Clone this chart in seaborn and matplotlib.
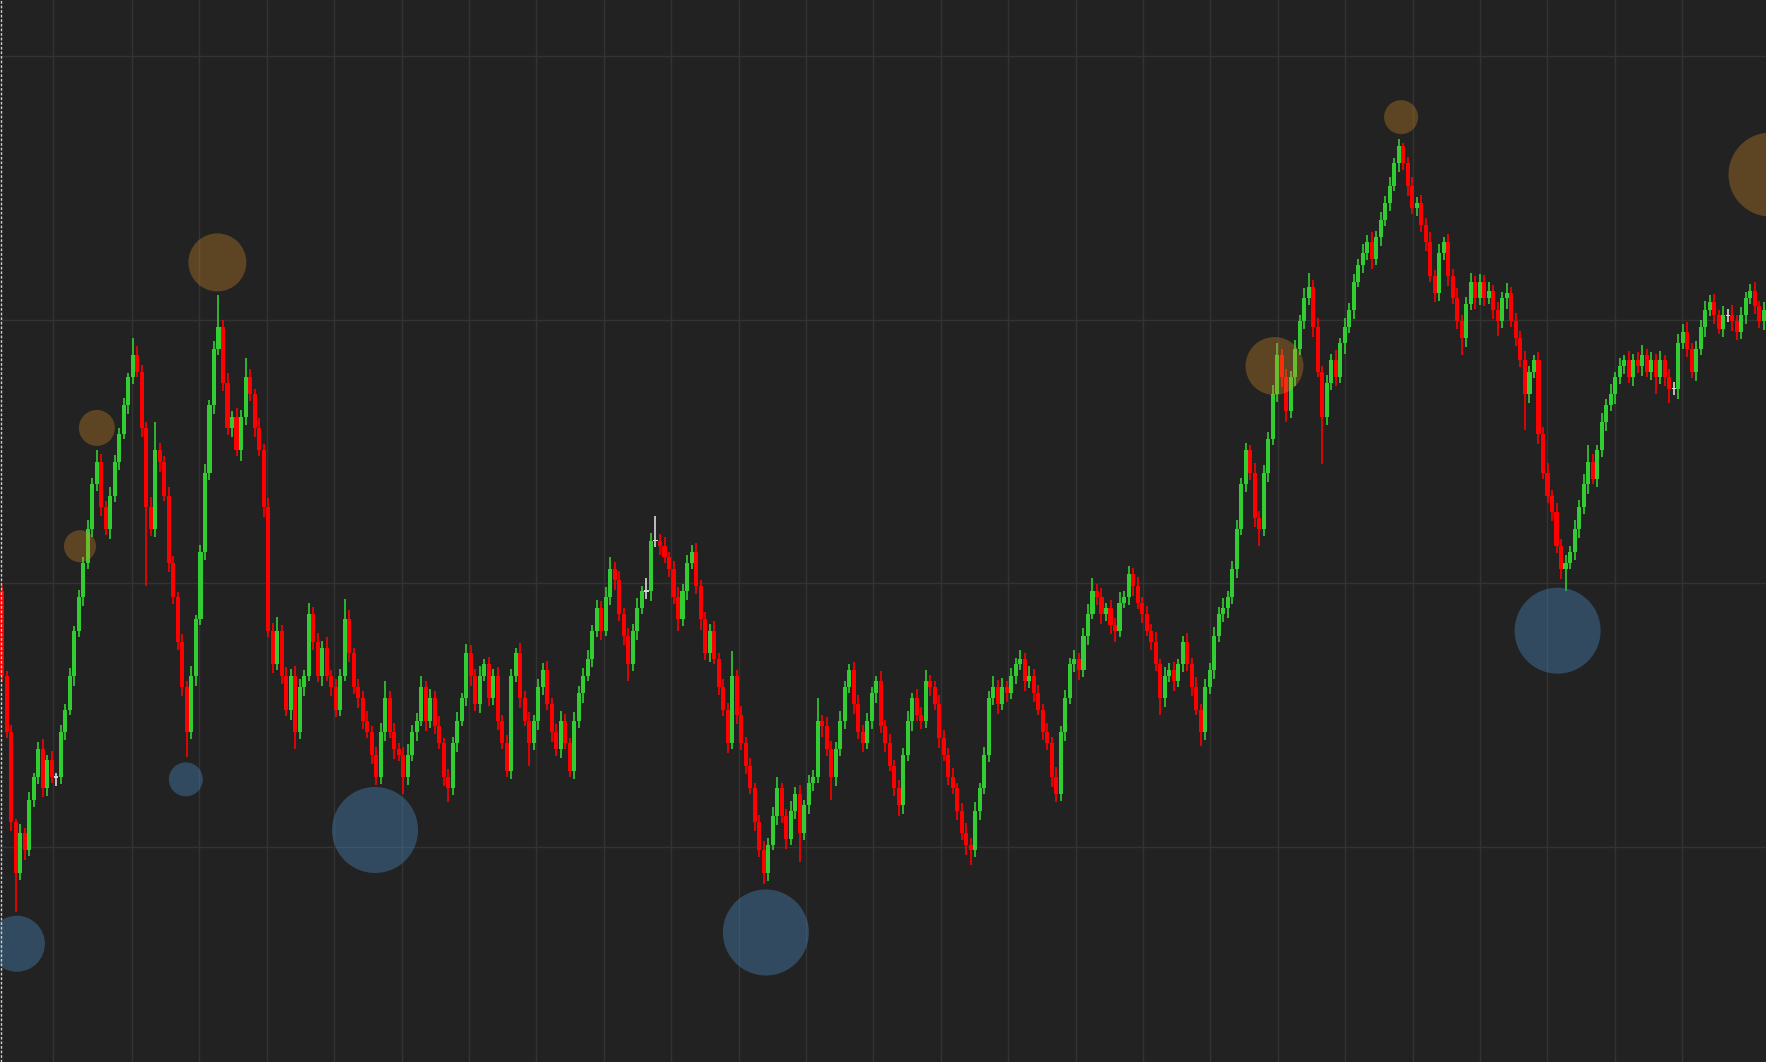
import numpy as np
import pandas as pd
import matplotlib
matplotlib.use("Agg")
import matplotlib.pyplot as plt
from matplotlib.lines import Line2D
import seaborn as sns

# ---------------- data (price units, one candle per entry) ----------------
open_ = [
    475, 400, 350, 270, 225, 260, 245, 290, 310, 335,
    300, 325, 310, 310, 350, 370, 400, 440, 470, 500,
    530, 570, 590, 550, 530, 560, 590, 615, 640, 665,
    685, 670, 620, 550, 530, 600, 590, 560, 500, 470,
    430, 390, 350, 400, 450, 510, 580, 640, 690, 710,
    660, 620, 630, 600, 630, 665, 650, 620, 600, 550,
    440, 410, 440, 400, 370, 400, 350, 390, 400, 455,
    430, 400, 425, 400, 390, 370, 400, 450, 420, 390,
    380, 360, 350, 330, 310, 350, 380, 350, 335, 330,
    310, 330, 350, 360, 390, 360, 380, 355, 340, 310,
    300, 340, 360, 380, 420, 400, 375, 400, 410, 380,
    400, 360, 340, 315, 400, 420, 380, 360, 340, 360,
    390, 405, 375, 350, 335, 360, 340, 315, 360, 385,
    400, 415, 440, 460, 440, 470, 495, 485, 455, 435,
    410, 440, 460, 475, 475, 520, 520, 515, 505, 495,
    470, 450, 475, 500, 510, 480, 450, 420, 440, 415,
    390, 370, 340, 400, 365, 340, 320, 300, 270, 245,
    225, 250, 275, 300, 275, 255, 280, 295, 260, 285,
    305, 310, 360, 355, 335, 310, 335, 360, 390, 405,
    375, 350, 340, 360, 385, 395, 355, 340, 320, 300,
    285, 330, 360, 380, 365, 360, 395, 390, 375, 345,
    330, 310, 300, 280, 260, 250, 245, 280, 300, 330,
    380, 390, 375, 390, 385, 400, 410, 415, 395, 400,
    385, 370, 350, 340, 310, 295, 350, 380, 410, 415,
    405, 435, 455, 475, 470, 455, 460, 445, 440, 465,
    470, 490, 480, 465, 455, 440, 430, 410, 380, 400,
    405, 395, 410, 430, 410, 390, 370, 350, 390, 405,
    435, 455, 460, 470, 495, 530, 570, 600, 580, 540,
    530, 580, 610, 650, 685, 665, 635, 665, 690, 715,
    735, 745, 710, 670, 630, 660, 680, 665, 695, 710,
    725, 750, 765, 775, 785, 770, 790, 805, 820, 835,
    855, 870, 855, 835, 815, 820, 800, 785, 755, 740,
    775, 785, 755, 735, 715, 700, 730, 750, 735, 750,
    735, 742, 725, 715, 735, 740, 715, 700, 680, 650,
    670, 680, 615, 580, 560, 545, 515, 495, 500, 510,
    530, 550, 570, 590, 575, 600, 625, 640, 650, 665,
    675, 680, 665, 680, 675, 685, 670, 680, 665, 680,
    665, 655, 655, 695, 705, 690, 670, 690, 710, 725,
    732, 720, 708, 720, 720, 715, 705, 720, 735, 742,
    728, 715,
]
close = [
    400, 350, 270, 225, 260, 245, 290, 310, 335, 300,
    325, 310, 310, 350, 370, 400, 440, 470, 500, 530,
    570, 590, 550, 530, 560, 590, 615, 640, 665, 685,
    670, 620, 550, 530, 600, 590, 560, 500, 470, 430,
    390, 350, 400, 450, 510, 580, 640, 690, 710, 660,
    620, 630, 600, 630, 665, 650, 620, 600, 550, 440,
    410, 440, 400, 370, 400, 350, 390, 400, 455, 430,
    400, 425, 400, 390, 370, 400, 450, 420, 390, 380,
    360, 350, 330, 310, 350, 380, 350, 335, 330, 310,
    330, 350, 360, 390, 360, 380, 355, 340, 310, 300,
    340, 360, 380, 420, 400, 375, 400, 410, 380, 400,
    360, 340, 315, 400, 420, 380, 360, 340, 360, 390,
    405, 375, 350, 335, 360, 340, 315, 360, 385, 400,
    415, 440, 460, 440, 470, 495, 485, 455, 435, 410,
    440, 460, 475, 475, 520, 520, 515, 505, 495, 470,
    450, 475, 500, 510, 480, 450, 420, 440, 415, 390,
    370, 340, 400, 365, 340, 320, 300, 270, 245, 225,
    250, 275, 300, 275, 255, 280, 295, 260, 285, 305,
    310, 360, 355, 335, 310, 335, 360, 390, 405, 375,
    350, 340, 360, 385, 395, 355, 340, 320, 300, 285,
    330, 360, 380, 365, 360, 395, 390, 375, 345, 330,
    310, 300, 280, 260, 250, 245, 280, 300, 330, 380,
    390, 375, 390, 385, 400, 410, 415, 395, 400, 385,
    370, 350, 340, 310, 295, 350, 380, 410, 415, 405,
    435, 455, 475, 470, 455, 460, 445, 440, 465, 470,
    490, 480, 465, 455, 440, 430, 410, 380, 400, 405,
    395, 410, 430, 410, 390, 370, 350, 390, 405, 435,
    455, 460, 470, 495, 530, 570, 600, 580, 540, 530,
    580, 610, 650, 685, 665, 635, 665, 690, 715, 735,
    745, 710, 670, 630, 660, 680, 665, 695, 710, 725,
    750, 765, 775, 785, 770, 790, 805, 820, 835, 855,
    870, 855, 835, 815, 820, 800, 785, 755, 740, 775,
    785, 755, 735, 715, 700, 730, 750, 735, 750, 735,
    742, 725, 715, 735, 740, 715, 700, 680, 650, 670,
    680, 615, 580, 560, 545, 515, 495, 500, 510, 530,
    550, 570, 590, 575, 600, 625, 640, 650, 665, 675,
    680, 665, 680, 675, 685, 670, 680, 665, 680, 665,
    655, 655, 695, 705, 690, 670, 690, 710, 725, 732,
    720, 708, 720, 720, 715, 705, 720, 735, 742, 728,
    715, 725,
]
upper_wick = [
    5, 4, 6, 3, 8, 5, 7, 4, 6, 9,
    5, 8, 4, 6, 5, 7, 4, 6, 5, 8,
    6, 10, 7, 5, 8, 6, 5, 7, 4, 15,
    8, 6, 5, 9, 25, 7, 5, 8, 6, 4,
    7, 5, 9, 4, 6, 8, 5, 7, 28, 6,
    9, 5, 8, 6, 17, 7, 5, 9, 6, 8,
    7, 12, 5, 8, 6, 9, 7, 5, 10, 6,
    8, 6, 9, 5, 7, 6, 18, 8, 5, 7,
    6, 9, 5, 7, 8, 15, 6, 8, 5, 7,
    9, 6, 7, 10, 5, 8, 6, 9, 5, 7,
    6, 8, 5, 8, 7, 6, 9, 5, 7, 6,
    8, 5, 7, 6, 5, 9, 6, 8, 5, 7,
    6, 8, 5, 7, 9, 6, 5, 8, 6, 7,
    8, 5, 7, 6, 9, 10, 6, 8, 5, 7,
    6, 9, 5, 12, 7, 22, 6, 8, 5, 7,
    9, 6, 7, 6, 8, 5, 7, 6, 9, 5,
    7, 6, 22, 5, 8, 6, 7, 5, 6, 8,
    6, 8, 10, 5, 7, 9, 6, 8, 5, 7,
    6, 20, 5, 8, 7, 6, 9, 5, 5, 7,
    8, 6, 7, 5, 5, 9, 6, 8, 5, 7,
    6, 9, 5, 8, 7, 10, 6, 5, 8, 7,
    6, 8, 5, 7, 9, 6, 8, 5, 7, 6,
    10, 6, 8, 5, 7, 6, 8, 5, 9, 6,
    7, 5, 8, 6, 9, 5, 7, 6, 8, 5,
    7, 9, 12, 6, 8, 5, 7, 6, 9, 5,
    7, 6, 8, 5, 7, 6, 9, 5, 8, 6,
    7, 5, 5, 8, 6, 9, 5, 7, 6, 8,
    6, 9, 5, 7, 8, 6, 7, 5, 9, 6,
    7, 6, 8, 10, 5, 7, 6, 8, 5, 9,
    13, 6, 8, 5, 7, 6, 9, 5, 8, 6,
    7, 5, 8, 6, 9, 5, 7, 6, 8, 5,
    7, 3, 6, 8, 5, 7, 6, 9, 5, 8,
    5, 7, 6, 9, 5, 6, 8, 5, 7, 6,
    8, 5, 7, 6, 9, 5, 7, 6, 8, 5,
    5, 7, 6, 9, 5, 8, 6, 7, 5, 8,
    6, 9, 15, 7, 5, 8, 6, 9, 5, 7,
    5, 8, 6, 7, 9, 5, 7, 6, 8, 5,
    7, 6, 8, 7, 9, 5, 7, 6, 8, 6,
    7, 5, 8, 6, 9, 5, 7, 6, 6, 8,
    5, 7,
]
lower_wick = [
    6, 5, 8, 35, 6, 9, 5, 7, 6, 8,
    7, 5, 8, 6, 7, 5, 9, 6, 8, 5,
    7, 6, 8, 5, 9, 6, 7, 5, 8, 6,
    5, 8, 70, 6, 7, 9, 5, 8, 6, 7,
    8, 22, 6, 9, 5, 7, 6, 8, 5, 7,
    6, 8, 5, 9, 7, 6, 8, 5, 9, 6,
    8, 5, 7, 6, 9, 15, 6, 8, 5, 7,
    6, 9, 5, 8, 7, 6, 5, 8, 6, 9,
    7, 5, 8, 7, 6, 8, 5, 9, 6, 15,
    7, 6, 8, 5, 9, 6, 7, 5, 8, 12,
    6, 8, 5, 7, 9, 6, 8, 5, 7, 6,
    8, 5, 5, 7, 6, 9, 5, 20, 6, 8,
    7, 5, 9, 6, 8, 5, 5, 7, 6, 9,
    5, 7, 6, 8, 5, 7, 9, 6, 8, 15,
    6, 8, 5, 7, 9, 6, 8, 5, 7, 6,
    10, 6, 8, 5, 7, 9, 6, 8, 5, 7,
    6, 9, 5, 8, 6, 7, 5, 8, 6, 10,
    7, 5, 8, 6, 9, 5, 7, 25, 6, 8,
    7, 5, 9, 6, 20, 8, 6, 7, 5, 9,
    6, 8, 5, 7, 9, 6, 8, 5, 7, 10,
    8, 6, 9, 5, 7, 6, 8, 5, 9, 6,
    7, 5, 8, 6, 9, 13, 6, 8, 5, 7,
    6, 9, 5, 8, 6, 7, 5, 9, 6, 8,
    5, 7, 6, 9, 7, 6, 8, 5, 7, 9,
    6, 8, 5, 7, 9, 6, 8, 10, 6, 5,
    7, 9, 6, 8, 5, 7, 6, 15, 8, 6,
    9, 5, 7, 6, 8, 5, 12, 7, 6, 8,
    5, 7, 9, 6, 8, 5, 7, 6, 8, 15,
    6, 8, 5, 7, 9, 10, 6, 8, 5, 7,
    6, 9, 5, 42, 7, 6, 8, 5, 9, 6,
    8, 5, 7, 6, 9, 5, 8, 6, 7, 5,
    8, 6, 9, 5, 7, 6, 8, 5, 8, 7,
    6, 9, 5, 7, 15, 8, 5, 9, 6, 7,
    5, 8, 13, 6, 9, 5, 7, 6, 32, 8,
    6, 9, 5, 7, 8, 6, 9, 20, 5, 7,
    8, 6, 9, 5, 7, 6, 8, 5, 9, 6,
    7, 5, 8, 6, 9, 5, 7, 15, 6, 8,
    13, 6, 9, 5, 7, 6, 8, 5, 9, 6,
    8, 5, 7, 6, 9, 7, 6, 8, 5, 7,
    6, 8,
]

# pivot bubbles: candle position, price level, radius (px)
high_pos = [17.25, 21.0, 47.75, 282.4, 310.5, 392.5]
high_price = [515, 620, 767, 675, 896, 845]
high_radius = [16, 18, 29, 29, 17, 42]
low_pos = [3.25, 40.75, 82.75, 169.5, 345.25]
low_price = [162, 308, 263, 172, 440]
low_radius = [28, 17, 43, 43, 43]

# ---------------- style ----------------
BG = "#222222"
sns.set_theme(style="dark", rc={
    "axes.facecolor": BG,
    "figure.facecolor": BG,
    "grid.color": "#333333",
    "axes.edgecolor": BG,
})

DPI = 100
fig = plt.figure(figsize=(17.66, 10.62), dpi=DPI)
ax = fig.add_axes([0, 0, 1, 1])
ax.set_facecolor(BG)

o = np.array(open_, dtype=float)
c = np.array(close, dtype=float)
hi = np.maximum(o, c) + np.array(upper_wick, dtype=float)
lo = np.minimum(o, c) - np.array(lower_wick, dtype=float)
x = np.arange(len(c))

GREEN, RED, DOJI = "#32CD32", "#FF0000", "#D8D8D8"
colors = np.where(c > o, GREEN, np.where(c < o, RED, DOJI))

ax.vlines(x, lo, hi, colors=colors, linewidth=1.2, zorder=2)
bottom = np.where(c == o, o - 0.7, np.minimum(o, c))
height = np.maximum(np.abs(c - o), 1.4)
ax.bar(x, height, bottom=bottom, width=0.9, color=colors,
       linewidth=0, zorder=2.5)

# bubbles (area in pt^2 from pixel radius)
def area(r):
    return (2 * np.asarray(r, dtype=float) * 72.0 / DPI) ** 2

all_areas = np.concatenate([area(high_radius), area(low_radius)])
amin, amax = all_areas.min(), all_areas.max()

hb = pd.DataFrame({"pos": high_pos, "price": high_price, "area": area(high_radius)})
lb = pd.DataFrame({"pos": low_pos, "price": low_price, "area": area(low_radius)})

sns.scatterplot(data=hb, x="pos", y="price", size="area", sizes=(amin, amax),
                size_norm=(amin, amax), color="#E69628", alpha=0.3,
                linewidth=0, legend=False, ax=ax, zorder=4)
sns.scatterplot(data=lb, x="pos", y="price", size="area", sizes=(amin, amax),
                size_norm=(amin, amax), color="#4682B4", alpha=0.42,
                linewidth=0, legend=False, ax=ax, zorder=4)

# axes / grid
ax.set_xlim(-0.5, 391.5)
ax.set_ylim(57, 1000)
xt = [11.27] + list(28.80 + 14.96 * np.arange(24))
ax.set_xticks(xt)
ax.set_yticks([248.3, 482.1, 716.3, 950.7])
ax.tick_params(length=0, labelbottom=False, labelleft=False)
ax.grid(True, color="#333333", linewidth=1.0)
ax.set_axisbelow(True)
ax.set_xlabel("")
ax.set_ylabel("")
for s in ax.spines.values():
    s.set_visible(False)

# dashed line at the left edge
fig.add_artist(Line2D([0.0006, 0.0006], [0, 1], transform=fig.transFigure,
                      color="#cccccc", linewidth=1.0,
                      linestyle=(0, (2, 1.3)), zorder=10))

fig.savefig("out.png", dpi=DPI, facecolor=BG)
